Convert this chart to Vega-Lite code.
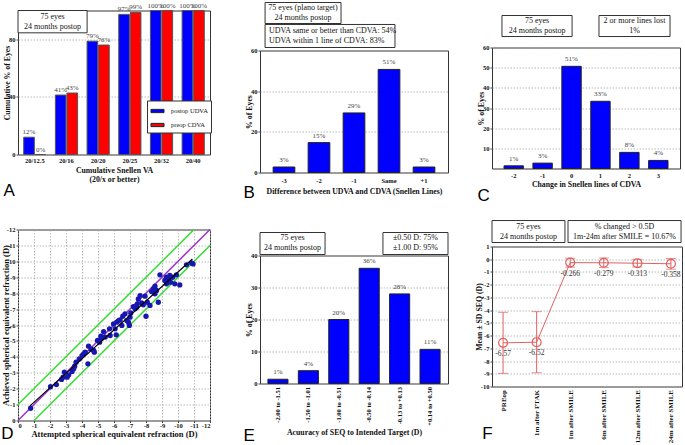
{
"$schema":"https://vega.github.io/schema/vega-lite/v6.json",
"background":"white",
"padding":{"left":0,"top":0.5,"right":0,"bottom":0},
"spacing":0,
"hconcat":[
{"vconcat":[
 {"width":192,"height":8,"view":{"stroke":null},"data":{"values":[{}]},"mark":{"type":"rect","opacity":0},
  "encoding":{"x":{"datum":0,"type":"quantitative","scale":{"domain":[0,1]},"axis":null},"x2":{"datum":1},"y":{"datum":0,"type":"quantitative","scale":{"domain":[0,1]},"axis":null},"y2":{"datum":1}}},
 {"width":192,"height":144,
  "title":{"text":"A","orient":"bottom","anchor":"start","frame":"bounds","offset":0,"dx":0},
  "layer":[
   {"data":{"values":[
    {"va":"20/12.5","s":"postop UDVA","p":12,"l":"12%"},
    {"va":"20/12.5","s":"preop CDVA","p":0,"l":"0%"},
    {"va":"20/16","s":"postop UDVA","p":41.3,"l":"41%"},
    {"va":"20/16","s":"preop CDVA","p":42.7,"l":"43%"},
    {"va":"20/20","s":"postop UDVA","p":78.7,"l":"79%"},
    {"va":"20/20","s":"preop CDVA","p":76,"l":"76%"},
    {"va":"20/25","s":"postop UDVA","p":97.3,"l":"97%"},
    {"va":"20/25","s":"preop CDVA","p":98.7,"l":"99%"},
    {"va":"20/32","s":"postop UDVA","p":100,"l":"100%"},
    {"va":"20/32","s":"preop CDVA","p":100,"l":"100%"},
    {"va":"20/40","s":"postop UDVA","p":100,"l":"100%"},
    {"va":"20/40","s":"preop CDVA","p":100,"l":"100%"}]},
    "encoding":{
     "x":{"field":"va","type":"nominal","sort":null,"scale":{"paddingInner":0.3,"paddingOuter":0.18},"axis":{"title":["Cumulative Snellen VA","(20/x or better)"],"labelAngle":0,"labelPadding":3,"titlePadding":2,"titleLineHeight":9}},
     "xOffset":{"field":"s","type":"nominal","scale":{"paddingInner":0.08}},
     "y":{"field":"p","type":"quantitative","scale":{"domain":[0,100],"nice":false},"axis":{"values":[0,20,40,60,80,100],"title":"Cumulative % of Eyes"}}
    },
    "layer":[
     {"mark":{"type":"bar","stroke":"#555","strokeWidth":1},
      "encoding":{"color":{"field":"s","type":"nominal","scale":{"range":["#0000FF","#FF0000"]},
       "legend":{"orient":"none","legendX":129,"legendY":98,"title":null,"symbolType":"M-1,-0.25H1V0.25H-1Z","symbolSize":170,"symbolStrokeColor":"#222","symbolStrokeWidth":1,"symbolOpacity":1,"labelFont":"Liberation Serif","labelFontSize":6.5,"labelColor":"#111","strokeColor":"#333","fillColor":"white","padding":3,"rowPadding":2,"labelOffset":6}}}},
     {"mark":{"type":"text","dy":-5,"fontSize":7,"color":"#444"},"encoding":{"text":{"field":"l"}}}
    ]},
   {"data":{"values":[{"t":"75 eyes\n24 months postop"}]},
    "layer":[
     {"mark":{"type":"rect","fill":"white","stroke":"#333","strokeWidth":1},"encoding":{"x":{"datum":0,"type":"quantitative","scale":{"domain":[0,100]},"axis":null},"x2":{"datum":36},"y":{"datum":84.5,"type":"quantitative"},"y2":{"datum":100}}},
     {"mark":{"type":"text","lineBreak":"\n","fontSize":8,"lineHeight":10,"dy":-5,"color":"#111"},"encoding":{"x":{"datum":18,"type":"quantitative","axis":null},"y":{"datum":92.2,"type":"quantitative"},"text":{"field":"t"}}}
    ]}
  ],
  "resolve":{"scale":{"x":"independent"},"axis":{"x":"independent"}}},
 {"width":192,"height":75,"view":{"stroke":null},"data":{"values":[{}]},"mark":"text","encoding":{"text":{"value":""}}},
 {"width":192,"height":191,
  "title":{"text":"D","orient":"bottom","anchor":"start","frame":"bounds","offset":-12,"dx":0},
  "encoding":{
   "x":{"field":"att","type":"quantitative","scale":{"domain":[0,-12],"nice":false,"zero":false},"axis":{"values":[0,-1,-2,-3,-4,-5,-6,-7,-8,-9,-10,-11,-12],"labelExpr":"'' + datum.value","grid":true,"title":"Attempted spherical equivalent refraction (D)","titleFontSize":8.5,"labelPadding":0,"titlePadding":0}},
   "y":{"field":"ach","type":"quantitative","scale":{"domain":[0,-12],"nice":false,"zero":false},"axis":{"values":[0,-1,-2,-3,-4,-5,-6,-7,-8,-9,-10,-11,-12],"labelExpr":"'' + datum.value","grid":true,"title":"Achieved spherical equivalent refraction (D)","titleFontSize":8.5,"titlePadding":-4}}
  },
  "layer":[
   {"data":{"values":[{"g":"a","att":0,"ach":-1},{"g":"a","att":-11,"ach":-12},{"g":"b","att":-1,"ach":0},{"g":"b","att":-12,"ach":-11}]},
    "mark":{"type":"line","color":"#33DD33","strokeWidth":1.5},"encoding":{"detail":{"field":"g"}}},
   {"data":{"values":[{"att":0,"ach":0},{"att":-12,"ach":-12}]},"mark":{"type":"line","color":"#9933CC","strokeWidth":1.5}},
   {"data":{"values":[
    {"att":-0.79,"ach":-0.77},{"att":-2.03,"ach":-2.12},{"att":-2.4,"ach":-2.26},{"att":-2.72,"ach":-2.58},{"att":-2.82,"ach":-2.72},
    {"att":-2.9,"ach":-3.04},{"att":-3.07,"ach":-2.72},{"att":-3.17,"ach":-2.87},{"att":-3.38,"ach":-3.08},{"att":-3.48,"ach":-3.25},
    {"att":-3.54,"ach":-3.41},{"att":-3.63,"ach":-3.66},{"att":-4.1,"ach":-4.19},{"att":-4.2,"ach":-4.29},{"att":-4.37,"ach":-3.56},
    {"att":-4.41,"ach":-4.67},{"att":-4.56,"ach":-4.5},{"att":-4.73,"ach":-4.4},{"att":-4.77,"ach":-4.29},{"att":-4.97,"ach":-5.03},
    {"att":-5.1,"ach":-4.92},{"att":-5.18,"ach":-5.3},{"att":-5.45,"ach":-5.24},{"att":-5.76,"ach":-5.34},{"att":-5.72,"ach":-5.76},
    {"att":-6.14,"ach":-5.38},{"att":-6.07,"ach":-5.76},{"att":-6.18,"ach":-6.18},{"att":-6.28,"ach":-6.28},{"att":-6.49,"ach":-5.97},
    {"att":-6.55,"ach":-6.55},{"att":-6.69,"ach":-6.7},{"att":-6.8,"ach":-6.28},{"att":-6.9,"ach":-6.18},{"att":-6.96,"ach":-5.97},
    {"att":-7.0,"ach":-6.49},{"att":-7.05,"ach":-6.76},{"att":-7.21,"ach":-7.16},{"att":-7.32,"ach":-7.02},{"att":-7.46,"ach":-7.33},
    {"att":-7.52,"ach":-7.64},{"att":-7.73,"ach":-7.39},{"att":-7.83,"ach":-7.27},{"att":-7.94,"ach":-7.81},{"att":-8.0,"ach":-6.55},
    {"att":-8.08,"ach":-7.43},{"att":-8.25,"ach":-7.23},{"att":-8.35,"ach":-8.1},{"att":-8.46,"ach":-8.27},{"att":-8.56,"ach":-7.96},
    {"att":-8.66,"ach":-8.17},{"att":-8.77,"ach":-7.43},{"att":-8.87,"ach":-9.15},{"att":-9.18,"ach":-8.8},{"att":-9.28,"ach":-9.0},
    {"att":-9.39,"ach":-8.9},{"att":-9.49,"ach":-9.11},{"att":-9.53,"ach":-8.69},{"att":-9.66,"ach":-9.0},{"att":-9.8,"ach":-8.59},
    {"att":-9.9,"ach":-9.15},{"att":-10.11,"ach":-8.52},{"att":-10.53,"ach":-9.78},{"att":-10.84,"ach":-9.9},{"att":-10.94,"ach":-9.84},
    {"att":-7.63,"ach":-7.85},{"att":-5.97,"ach":-6.07},{"att":-5.35,"ach":-5.59},{"att":-4.0,"ach":-4.08},{"att":-3.83,"ach":-3.87},
    {"att":-5.18,"ach":-5.13},{"att":-7.42,"ach":-7.12},{"att":-8.56,"ach":-8.44},{"att":-9.28,"ach":-8.59},{"att":-6.38,"ach":-6.32}]},
    "mark":{"type":"circle","size":28,"color":"#1717B0","opacity":1}},
   {"data":{"values":[{"att":-0.75,"ach":-0.92},{"att":-10.9,"ach":-10.15}]},"mark":{"type":"line","color":"#000","strokeWidth":1.2}},
   {"data":{"values":[{"t":"75 eyes\n24 months postop"}]},
    "layer":[
     {"mark":{"type":"rect","fill":"white","stroke":"#333","strokeWidth":1},"encoding":{"x":{"datum":-0.58},"x2":{"datum":-4.83},"y":{"datum":-10.05},"y2":{"datum":-8.48}}},
     {"mark":{"type":"text","lineBreak":"\n","fontSize":8.5,"lineHeight":11,"dy":-5.5,"color":"#111"},"encoding":{"x":{"datum":-2.7},"y":{"datum":-9.27},"text":{"field":"t"}}}
    ]},
   {"data":{"values":[{"t":"Overcorrected"}]},
    "layer":[
     {"mark":{"type":"rect","fill":"white","stroke":"#333","strokeWidth":1},"encoding":{"x":{"datum":-1.58},"x2":{"datum":-5.39},"y":{"datum":-7.96},"y2":{"datum":-7.16}}},
     {"mark":{"type":"text","fontSize":8.5,"color":"#111"},"encoding":{"x":{"datum":-3.48},"y":{"datum":-7.56},"text":{"field":"t"}}}
    ]},
   {"data":{"values":[{"t":"Undercorrected"}]},
    "layer":[
     {"mark":{"type":"rect","fill":"white","stroke":"#333","strokeWidth":1},"encoding":{"x":{"datum":-7.07},"x2":{"datum":-11.15},"y":{"datum":-4.54},"y2":{"datum":-3.66}}},
     {"mark":{"type":"text","fontSize":8.5,"color":"#111"},"encoding":{"x":{"datum":-9.11},"y":{"datum":-4.1},"text":{"field":"t"}}}
    ]},
   {"data":{"values":[{"a":"y = 0.9093x - 0.2372","b":"R²=0.9733"}]},
    "layer":[
     {"mark":{"type":"rect","fill":"white","stroke":"#333","strokeWidth":1},"encoding":{"x":{"datum":-6.59},"x2":{"datum":-11.15},"y":{"datum":-3.35},"y2":{"datum":-1.78}}},
     {"mark":{"type":"text","fontSize":8,"color":"#111"},"encoding":{"x":{"datum":-8.87},"y":{"datum":-2.9},"text":{"field":"a"}}},
     {"mark":{"type":"text","fontSize":8,"color":"#111"},"encoding":{"x":{"datum":-9.5},"y":{"datum":-2.2},"text":{"field":"b"}}}
    ]}
  ]}
],"spacing":0,"bounds":"flush"},

{"width":29,"height":1,"view":{"stroke":null},"data":{"values":[{}]},"mark":{"type":"rect","opacity":0},
 "encoding":{"x":{"datum":0,"type":"quantitative","scale":{"domain":[0,1]},"axis":null},"x2":{"datum":1},"y":{"datum":0,"type":"quantitative","scale":{"domain":[0,1]},"axis":null},"y2":{"datum":1}}},

{"vconcat":[
 {"width":188,"height":48,"view":{"stroke":null},
  "layer":[
   {"data":{"values":[{}]},"mark":{"type":"rect","opacity":0},"encoding":{"x":{"datum":0,"type":"quantitative","scale":{"domain":[0,100]},"axis":null},"x2":{"datum":100},"y":{"datum":0,"type":"quantitative","scale":{"domain":[0,100],"reverse":true},"axis":null},"y2":{"datum":100}}},
   {"data":{"values":[{"t":"75 eyes (plano target)\n24 months postop"}]},
    "layer":[
     {"mark":{"type":"rect","fill":"white","stroke":"#333","strokeWidth":1},"encoding":{"x":{"datum":2.7,"type":"quantitative","axis":null},"x2":{"datum":43.1},"y":{"datum":0,"type":"quantitative","axis":null},"y2":{"datum":43.75}}},
     {"mark":{"type":"text","lineBreak":"\n","fontSize":8,"lineHeight":10,"dy":-5,"color":"#111"},"encoding":{"x":{"datum":22.9,"type":"quantitative","axis":null},"y":{"datum":21.9,"type":"quantitative","axis":null},"text":{"field":"t"}}}
    ]},
   {"data":{"values":[{"t":"UDVA same or better than CDVA: 54%\nUDVA within 1 line of CDVA: 83%"}]},
    "layer":[
     {"mark":{"type":"rect","fill":"white","stroke":"#333","strokeWidth":1},"encoding":{"x":{"datum":2.7,"type":"quantitative","axis":null},"x2":{"datum":71.8},"y":{"datum":45.8,"type":"quantitative","axis":null},"y2":{"datum":93.75}}},
     {"mark":{"type":"text","lineBreak":"\n","fontSize":8,"lineHeight":10,"dy":-5,"align":"left","color":"#111"},"encoding":{"x":{"datum":4.8,"type":"quantitative","axis":null},"y":{"datum":69.8,"type":"quantitative","axis":null},"text":{"field":"t"}}}
    ]}
  ]},
 {"width":188,"height":122,
  "title":{"text":"B","orient":"bottom","anchor":"start","frame":"bounds","offset":-10,"dx":-2},
  "data":{"values":[
   {"d":"-3","p":2.7,"l":"3%"},{"d":"-2","p":14.7,"l":"15%"},{"d":"-1","p":29.3,"l":"29%"},{"d":"Same","p":50.7,"l":"51%"},{"d":"+1","p":2.7,"l":"3%"}]},
  "encoding":{
   "x":{"field":"d","type":"nominal","sort":null,"scale":{"paddingInner":0.38,"paddingOuter":0.375},"axis":{"title":"Difference between UDVA and CDVA (Snellen Lines)","labelAngle":0,"labelPadding":5,"titlePadding":3}},
   "y":{"field":"p","type":"quantitative","scale":{"domain":[0,60],"nice":false},"axis":{"values":[0,20,40,60],"title":"% of Eyes"}}
  },
  "layer":[
   {"mark":{"type":"bar","color":"#0000FF","stroke":"#222","strokeWidth":1}},
   {"mark":{"type":"text","dy":-7,"fontSize":7,"color":"#444"},"encoding":{"text":{"field":"l"}}}
  ]},
 {"width":188,"height":83,"view":{"stroke":null},
  "layer":[
   {"data":{"values":[{"t":"75 eyes\n24 months postop"}]},
    "layer":[
     {"mark":{"type":"rect","fill":"white","stroke":"#333","strokeWidth":1},"encoding":{"x":{"datum":0,"type":"quantitative","scale":{"domain":[0,100]},"axis":null},"x2":{"datum":34.6},"y":{"datum":72.3,"type":"quantitative","scale":{"domain":[0,100],"reverse":true},"axis":null},"y2":{"datum":98.8}}},
     {"mark":{"type":"text","lineBreak":"\n","fontSize":8,"lineHeight":10,"dy":-5,"color":"#111"},"encoding":{"x":{"datum":17.3,"type":"quantitative","axis":null},"y":{"datum":85.5,"type":"quantitative","axis":null},"text":{"field":"t"}}}
    ]},
   {"data":{"values":[{"t":"±0.50 D: 75%\n±1.00 D: 95%"}]},
    "layer":[
     {"mark":{"type":"rect","fill":"white","stroke":"#333","strokeWidth":1},"encoding":{"x":{"datum":65.4,"type":"quantitative","axis":null},"x2":{"datum":100},"y":{"datum":72.3,"type":"quantitative","axis":null},"y2":{"datum":98.8}}},
     {"mark":{"type":"text","lineBreak":"\n","fontSize":8,"lineHeight":10,"dy":-5,"color":"#111"},"encoding":{"x":{"datum":82.7,"type":"quantitative","axis":null},"y":{"datum":85.5,"type":"quantitative","axis":null},"text":{"field":"t"}}}
    ]}
  ]},
 {"width":188,"height":128,
  "title":{"text":"E","orient":"bottom","anchor":"start","frame":"bounds","offset":-8,"dx":-2},
  "data":{"values":[
   {"r":"-2.00 to -1.51","p":1.33,"l":"1%"},{"r":"-1.50 to -1.01","p":4,"l":"4%"},{"r":"-1.00 to -0.51","p":20,"l":"20%"},
   {"r":"-0.50 to -0.14","p":36,"l":"36%"},{"r":"-0.13 to +0.13","p":28,"l":"28%"},{"r":"+0.14 to +0.50","p":10.67,"l":"11%"}]},
  "encoding":{
   "x":{"field":"r","type":"nominal","sort":null,"scale":{"paddingInner":0.34,"paddingOuter":0.26},"axis":{"title":"Acuuracy of SEQ to Intended Target (D)","labelAngle":-90,"labelPadding":3,"titlePadding":3}},
   "y":{"field":"p","type":"quantitative","scale":{"domain":[0,40],"nice":false},"axis":{"values":[0,10,20,30,40],"title":"% of Eyes"}}
  },
  "layer":[
   {"mark":{"type":"bar","color":"#0000FF","stroke":"#222","strokeWidth":1}},
   {"mark":{"type":"text","dy":-7,"fontSize":7,"color":"#444"},"encoding":{"text":{"field":"l"}}}
  ]}
],"spacing":0,"bounds":"flush"},

{"width":25,"height":1,"view":{"stroke":null},"data":{"values":[{}]},"mark":{"type":"rect","opacity":0},
 "encoding":{"x":{"datum":0,"type":"quantitative","scale":{"domain":[0,1]},"axis":null},"x2":{"datum":1},"y":{"datum":0,"type":"quantitative","scale":{"domain":[0,1]},"axis":null},"y2":{"datum":1}}},

{"vconcat":[
 {"width":188,"height":45,"view":{"stroke":null},
  "layer":[
   {"data":{"values":[{}]},"mark":{"type":"rect","opacity":0},"encoding":{"x":{"datum":0,"type":"quantitative","scale":{"domain":[0,100]},"axis":null},"x2":{"datum":100},"y":{"datum":0,"type":"quantitative","scale":{"domain":[0,100],"reverse":true},"axis":null},"y2":{"datum":100}}},
   {"data":{"values":[{"t":"75 eyes\n24 months postop"}]},
    "layer":[
     {"mark":{"type":"rect","fill":"white","stroke":"#333","strokeWidth":1},"encoding":{"x":{"datum":5.3,"type":"quantitative","axis":null},"x2":{"datum":42.6},"y":{"datum":28.9,"type":"quantitative","axis":null},"y2":{"datum":75.6}}},
     {"mark":{"type":"text","lineBreak":"\n","fontSize":8,"lineHeight":10,"dy":-5,"color":"#111"},"encoding":{"x":{"datum":24,"type":"quantitative","axis":null},"y":{"datum":52.2,"type":"quantitative","axis":null},"text":{"field":"t"}}}
    ]},
   {"data":{"values":[{"t":"2 or more lines lost\n1%"}]},
    "layer":[
     {"mark":{"type":"rect","fill":"white","stroke":"#333","strokeWidth":1},"encoding":{"x":{"datum":56.9,"type":"quantitative","axis":null},"x2":{"datum":94.7},"y":{"datum":28.9,"type":"quantitative","axis":null},"y2":{"datum":75.6}}},
     {"mark":{"type":"text","lineBreak":"\n","fontSize":8,"lineHeight":10,"dy":-5,"color":"#111"},"encoding":{"x":{"datum":75.8,"type":"quantitative","axis":null},"y":{"datum":52.2,"type":"quantitative","axis":null},"text":{"field":"t"}}}
    ]}
  ]},
 {"width":188,"height":121,
  "title":{"text":"C","orient":"bottom","anchor":"start","frame":"bounds","offset":0,"dx":0},
  "data":{"values":[
   {"d":"-2","p":1.33,"l":"1%"},{"d":"-1","p":2.67,"l":"3%"},{"d":"0","p":50.67,"l":"51%"},{"d":"1","p":33.33,"l":"33%"},{"d":"2","p":8,"l":"8%"},{"d":"3","p":4,"l":"4%"}]},
  "encoding":{
   "x":{"field":"d","type":"nominal","sort":null,"scale":{"paddingInner":0.33,"paddingOuter":0.415},"axis":{"title":"Change in Snellen lines of CDVA","labelAngle":0,"labelPadding":4,"titlePadding":1}},
   "y":{"field":"p","type":"quantitative","scale":{"domain":[0,60],"nice":false},"axis":{"values":[10,20,30,40,50,60],"title":"% of Eyes"}}
  },
  "layer":[
   {"mark":{"type":"bar","color":"#0000FF","stroke":"#222","strokeWidth":1}},
   {"mark":{"type":"text","dy":-7,"fontSize":7,"color":"#444"},"encoding":{"text":{"field":"l"}}}
  ]},
 {"width":190,"height":78,"view":{"stroke":null},
  "layer":[
   {"data":{"values":[{"t":"75 eyes\n24 months postop"}]},
    "layer":[
     {"mark":{"type":"rect","fill":"white","stroke":"#333","strokeWidth":1},"encoding":{"x":{"datum":0,"type":"quantitative","scale":{"domain":[0,100]},"axis":null},"x2":{"datum":38.4},"y":{"datum":66.7,"type":"quantitative","scale":{"domain":[0,100],"reverse":true},"axis":null},"y2":{"datum":94.9}}},
     {"mark":{"type":"text","lineBreak":"\n","fontSize":8,"lineHeight":10,"dy":-5,"color":"#111"},"encoding":{"x":{"datum":19.2,"type":"quantitative","axis":null},"y":{"datum":80.8,"type":"quantitative","axis":null},"text":{"field":"t"}}}
    ]},
   {"data":{"values":[{"t":"% changed > 0.5D\n1m-24m after SMILE = 10.67%"}]},
    "layer":[
     {"mark":{"type":"rect","fill":"white","stroke":"#333","strokeWidth":1},"encoding":{"x":{"datum":40,"type":"quantitative","axis":null},"x2":{"datum":99.5},"y":{"datum":66.7,"type":"quantitative","axis":null},"y2":{"datum":94.9}}},
     {"mark":{"type":"text","lineBreak":"\n","fontSize":8,"lineHeight":10,"dy":-5,"color":"#111"},"encoding":{"x":{"datum":69.7,"type":"quantitative","axis":null},"y":{"datum":80.8,"type":"quantitative","axis":null},"text":{"field":"t"}}}
    ]}
  ]},
 {"width":190,"height":140,
  "title":{"text":"F","orient":"bottom","anchor":"start","frame":"bounds","offset":-17,"dx":7},
  "data":{"values":[
   {"t":"PREop","mean":-6.57,"lo":-8.97,"hi":-4.17},
   {"t":"1m after FTAK","mean":-6.52,"lo":-8.92,"hi":-4.12},
   {"t":"1m after SMILE","mean":-0.266,"lo":-0.62,"hi":0.08},
   {"t":"6m after SMILE","mean":-0.279,"lo":-0.66,"hi":0.1},
   {"t":"12m after SMILE","mean":-0.313,"lo":-0.61,"hi":-0.01},
   {"t":"24m after SMILE","mean":-0.358,"lo":-0.78,"hi":0.06}]},
  "encoding":{
   "x":{"field":"t","type":"nominal","sort":null,"scale":{"type":"point","padding":0.33},"axis":{"title":null,"labelAngle":-90,"labelPadding":3,"labelFontSize":7}},
   "y":{"field":"mean","type":"quantitative","title":"Mean ± SD SEQ (D)","scale":{"domain":[-10,1],"nice":false,"zero":false},"axis":{"values":[-10,-9,-8,-7,-6,-5,-4,-3,-2,-1,0,1],"labelExpr":"'' + datum.value"}}
  },
  "layer":[
   {"mark":{"type":"rule","color":"#333","strokeWidth":1},"encoding":{"y":{"datum":0,"type":"quantitative"}}},
   {"mark":{"type":"line","color":"#E06060","strokeWidth":1}},
   {"mark":{"type":"rule","color":"#E06060","strokeWidth":1},"encoding":{"y":{"field":"lo","type":"quantitative","title":"Mean ± SD SEQ (D)"},"y2":{"field":"hi"}}},
   {"mark":{"type":"tick","color":"#E06060","size":10,"thickness":1},"encoding":{"y":{"field":"lo","type":"quantitative","title":"Mean ± SD SEQ (D)"}}},
   {"mark":{"type":"tick","color":"#E06060","size":10,"thickness":1},"encoding":{"y":{"field":"hi","type":"quantitative","title":"Mean ± SD SEQ (D)"}}},
   {"mark":{"type":"point","shape":"circle","size":80,"filled":false,"stroke":"#E06060","strokeWidth":1.2,"opacity":1}},
   {"mark":{"type":"text","dy":11,"fontSize":7.5,"color":"#333"},"encoding":{"text":{"field":"mean","type":"nominal"}}}
  ]}
],"spacing":0,"bounds":"flush"}
],
"config":{
 "font":"Liberation Serif",
 "view":{"stroke":"#333","strokeWidth":1},
 "axis":{"labelFont":"Liberation Serif","labelFontWeight":"bold","labelFontSize":6.5,"labelColor":"#111","titleFont":"Liberation Serif","titleFontWeight":"bold","titleFontSize":7.8,"titleColor":"#111","domain":false,"tickSize":2,"tickColor":"#444","gridColor":"#aaa","gridDash":[1.5,1.5],"gridWidth":0.8,"labelPadding":1,"titlePadding":2},
 "axisY":{"titlePadding":-3},
 "axisX":{"grid":false},
 "axisDiscrete":{"ticks":false,"grid":false},
 "title":{"font":"Liberation Sans","fontSize":17,"fontWeight":"normal","color":"#000"},
 "text":{"font":"Liberation Serif"}
}
}
